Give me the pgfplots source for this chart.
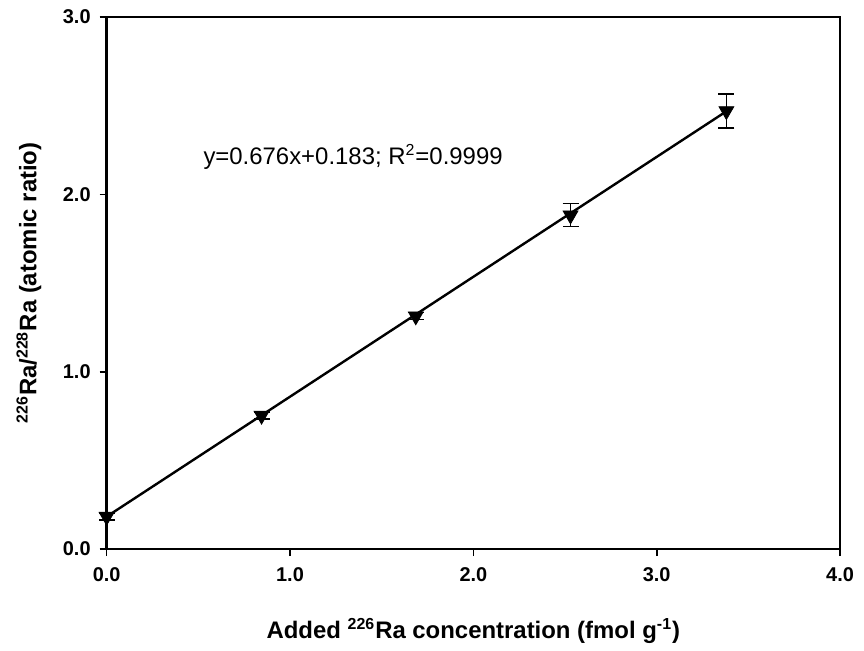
\documentclass[border=0pt]{standalone}
\usepackage{fontspec}
\setmainfont{Liberation Sans}
\usepackage{pgfplots}
\pgfplotsset{compat=1.18}

\begin{document}
\begin{tikzpicture}
\begin{axis}[
    scale only axis,
    width=368pt, height=267pt,
    xmin=0, xmax=4, ymin=0, ymax=3,
    xtick={0,1,2,3,4}, ytick={0,1,2,3},
    xticklabels={\textbf{0.0},\textbf{1.0},\textbf{2.0},\textbf{3.0},\textbf{4.0}},
    yticklabels={\textbf{0.0},\textbf{1.0},\textbf{2.0},\textbf{3.0}},
    tick label style={font=\fontsize{10}{12}\selectfont},
    xticklabel style={yshift=-2pt},
    yticklabel style={xshift=-1pt},
    axis line style={line width=1.3pt},
    tick style={line width=0.8pt, black},
    tick align=outside,
    major tick length=3.5pt,
    xtick pos=bottom, ytick pos=left,
    xlabel={\textbf{Added \textsuperscript{226}Ra concentration (fmol g\textsuperscript{-1})}},
    ylabel={\textbf{\textsuperscript{226}Ra/\textsuperscript{228}Ra (atomic ratio)}},
    label style={font=\fontsize{12}{14}\selectfont},
    xlabel style={yshift=-12pt},
    ylabel style={yshift=4pt},
    clip=false,
]
\addplot[black, line width=1.2pt, forget plot] coordinates {(0,0.183) (3.38,2.468)};
\addplot[only marks, mark=triangle*, mark options={rotate=180, fill=black, draw=black, scale=1}, mark size=4.3pt,
    error bars/.cd, y dir=both, y explicit,
    error bar style={line width=0.7pt, black},
    error mark options={line width=0.7pt, mark size=4pt, rotate=90}]
coordinates {
    (0,0.183) +- (0,0.02)
    (0.845,0.753) +- (0,0.02)
    (1.686,1.313) +- (0,0.02)
    (2.53,1.882) +- (0,0.065)
    (3.38,2.47) +- (0,0.095)
};
\node[anchor=west, font=\fontsize{12}{14}\selectfont] at (axis cs:0.49,2.21) {y=0.676x+0.183; R\textsuperscript{2}=0.9999};
\end{axis}
\pgfresetboundingbox
\path ([shift={(-53.5pt,-51pt)}]current axis.south west) rectangle ([shift={(12pt,8.5pt)}]current axis.north east);
\end{tikzpicture}
\end{document}
